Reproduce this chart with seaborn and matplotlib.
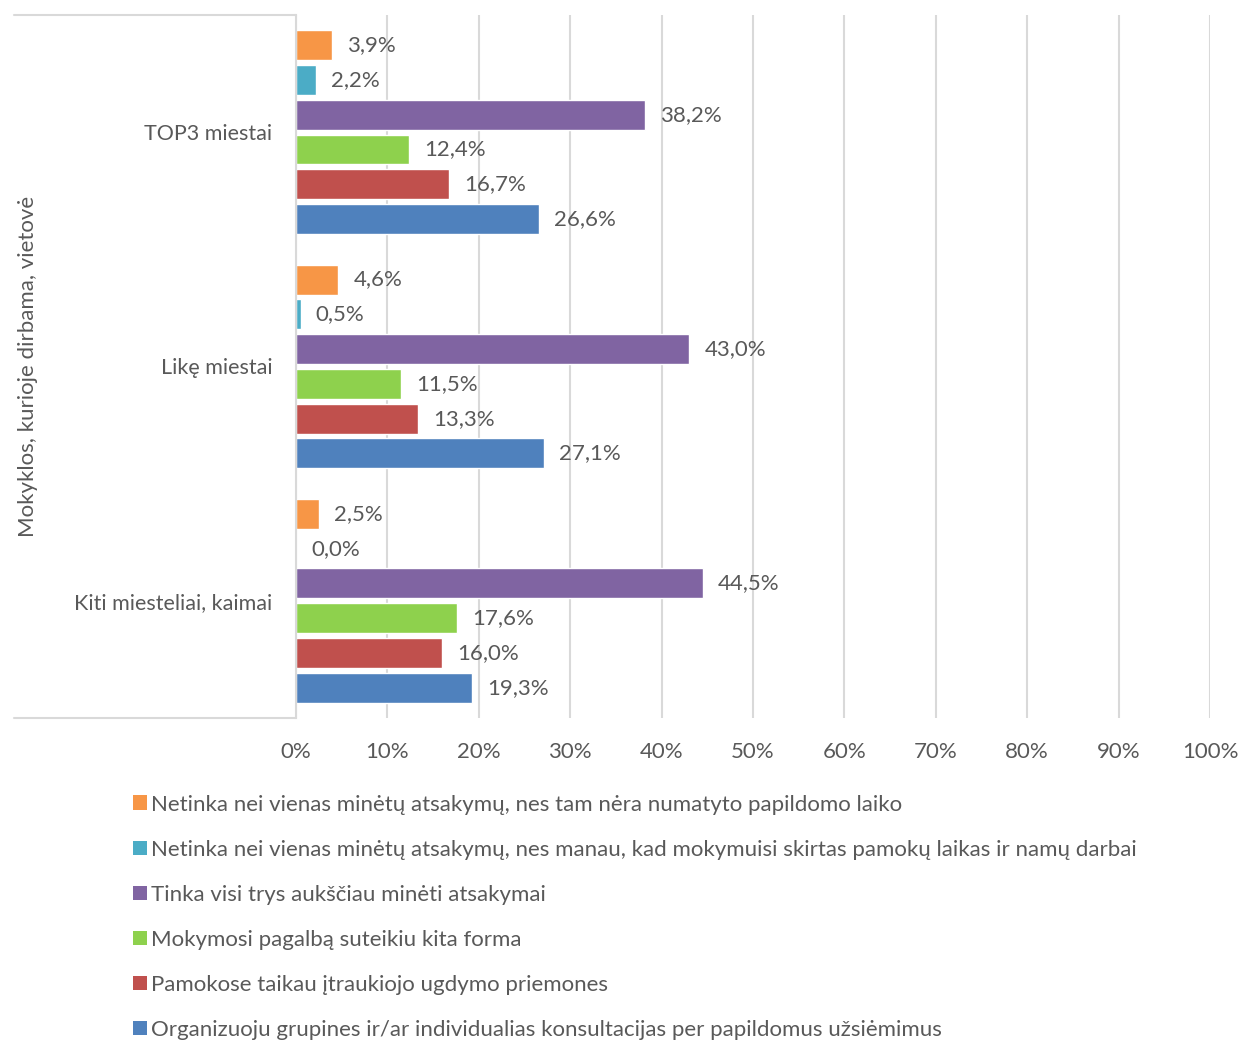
import pandas as pd
import matplotlib.pyplot as plt
import seaborn as sns
from matplotlib.patches import Patch
from matplotlib.lines import Line2D

# Chart data
categories = ["TOP3 miestai", "Likę miestai", "Kiti miesteliai, kaimai"]
series = [
    "Netinka nei vienas minėtų atsakymų, nes tam nėra numatyto papildomo laiko",
    "Netinka nei vienas minėtų atsakymų, nes manau, kad mokymuisi skirtas pamokų laikas ir namų darbai",
    "Tinka visi trys aukščiau minėti atsakymai",
    "Mokymosi pagalbą suteikiu kita forma",
    "Pamokose taikau įtraukiojo ugdymo priemones",
    "Organizuoju grupines ir/ar individualias konsultacijas per papildomus užsiėmimus",
]
no_time = [3.9, 4.6, 2.5]
lessons_enough = [2.2, 0.5, 0.0]
all_three = [38.2, 43.0, 44.5]
other_form = [12.4, 11.5, 17.6]
inclusive = [16.7, 13.3, 16.0]
consultations = [26.6, 27.1, 19.3]
colors = ["#F79646", "#4BACC6", "#8064A2", "#8ED14D", "#C0504D", "#4F81BD"]

values = [no_time, lessons_enough, all_three, other_form, inclusive, consultations]
rows = []
for s, vals in zip(series, values):
    for c, v in zip(categories, vals):
        rows.append({"category": c, "series": s, "value": v})
df = pd.DataFrame(rows)

sns.set_style("white")
plt.rcParams["font.family"] = ["Lato", "DejaVu Sans"]
text_color = "#595959"
grid_color = "#D9D9D9"

fig = plt.figure(figsize=(12.4, 10.41), dpi=100)
ax = fig.add_axes([0.2387, 0.3103, 0.9758 - 0.2387, 0.9856 - 0.3103])

sns.barplot(data=df, y="category", x="value", hue="series", order=categories,
            hue_order=series, palette=colors, orient="h", width=0.89, gap=0.14,
            saturation=1, legend=False, ax=ax)

ax.set_xlim(0, 100)
ax.set_xticks(range(0, 101, 10))
ax.set_xticklabels([f"{t}%" for t in range(0, 101, 10)])
ax.grid(axis="x", color=grid_color, linewidth=1.5)
ax.set_axisbelow(True)
for side in ["top", "right", "bottom"]:
    ax.spines[side].set_visible(False)
ax.spines["left"].set_color(grid_color)
ax.spines["left"].set_linewidth(1.5)
ax.tick_params(axis="both", length=0, colors=text_color)
ax.tick_params(axis="x", pad=17, labelsize=16)
ax.tick_params(axis="y", pad=17, labelsize=15.5)
ax.set_xlabel("")
ax.set_ylabel("Mokyklos, kurioje dirbama, vietovė", fontsize=16, color=text_color,
              labelpad=0)
ax.yaxis.set_label_coords(-0.282, 0.5)

# data labels
for container, vals in zip(ax.containers, values):
    labels = [f"{v:.1f}%".replace(".", ",") for v in vals]
    ax.bar_label(container, labels=labels, padding=11, fontsize=16, color=text_color)

# category separator lines to the left of the axis
for yy in [0, 1]:
    ax.add_line(Line2D([-0.309, 0], [yy, yy], transform=ax.transAxes, color=grid_color,
                       linewidth=1.5, clip_on=False))

handles = [Patch(facecolor=c, edgecolor="none") for c in colors]
leg = fig.legend(handles, series, loc="upper left", bbox_to_anchor=(0.0915, 0.256),
                 frameon=False, fontsize=16, handlelength=0.62, handleheight=0.62,
                 handletextpad=0.15, labelspacing=1.13, labelcolor=text_color)

fig.savefig("out.png", dpi=100)
